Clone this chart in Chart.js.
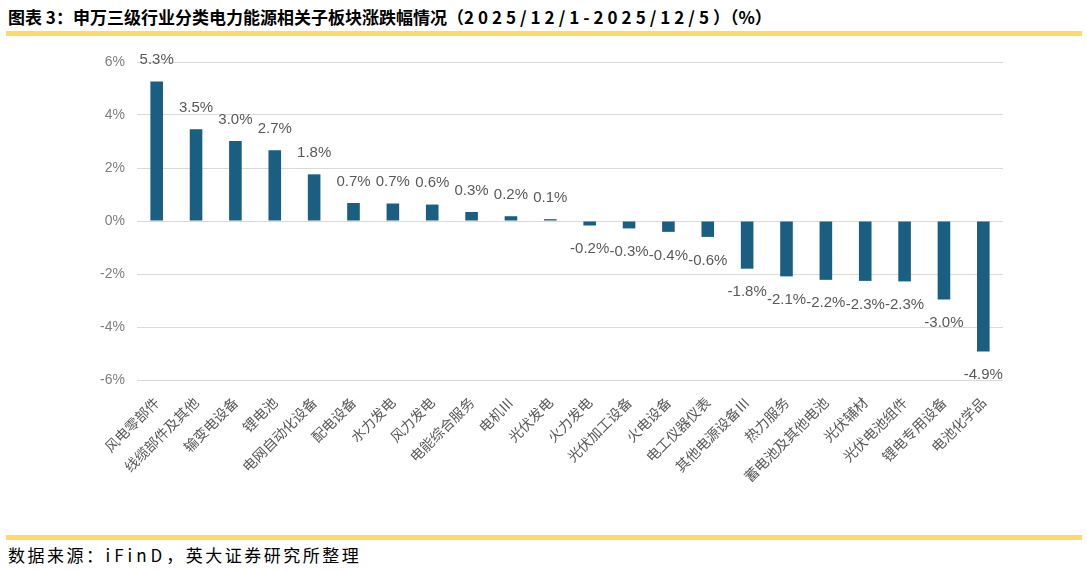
<!DOCTYPE html>
<html>
<head>
<meta charset="utf-8">
<script src="https://cdn.jsdelivr.net/npm/chart.js@4.4.0/dist/chart.umd.min.js"></script>
<style>
    html, body { margin: 0; padding: 0; background: #fff; }
    body { width: 1087px; height: 570px; position: relative; overflow: hidden; font-family: "Noto Sans CJK SC", sans-serif; }
    .title { position: absolute; left: 8px; top: 4px; font-size: 17px; font-weight: 700; color: #000; white-space: nowrap; }
    .title .num { letter-spacing: 4px; }
    .rule { position: absolute; left: 6px; width: 1076px; height: 5px; background: #ffd966; }
    .source { position: absolute; left: 8px; top: 542px; font-size: 17px; color: #000; white-space: nowrap; letter-spacing: 2.5px; }
    .source .num { letter-spacing: 4px; }
    #wrap { position: absolute; left: 0; top: 40px; width: 1087px; height: 490px; }
</style>
</head>
<body>
<div class="title">图表 3：申万三级行业分类电力能源相关子板块涨跌幅情况（<span class="num">2025/12/1-2025/12/5</span>）（%）</div>
<div class="rule" style="top:31px"></div>
<div id="wrap"><canvas id="chart"></canvas></div>
<div class="rule" style="top:535px"></div>
<div class="source">数据来源：<span class="num">iFinD</span>，英大证券研究所整理</div>

<script>
// 子板块名称
const sectors = ['风电零部件', '线缆部件及其他', '输变电设备', '锂电池', '电网自动化设备', '配电设备',
    '水力发电', '风力发电', '电能综合服务', '电机Ⅲ', '光伏发电', '火力发电', '光伏加工设备',
    '火电设备', '电工仪器仪表', '其他电源设备Ⅲ', '热力服务', '蓄电池及其他电池', '光伏辅材',
    '光伏电池组件', '锂电专用设备', '电池化学品'];

// 周涨跌幅 (%)
const changes = [5.26, 3.46, 3.02, 2.67, 1.76, 0.68, 0.66, 0.62, 0.34, 0.18, 0.07,
    -0.17, -0.28, -0.41, -0.6, -1.8, -2.09, -2.22, -2.26, -2.28, -2.96, -4.92];

const yTicks = [-6, -4, -2, 0, 2, 4, 6];

// 数据标签 (没有 datalabels 插件, 自己画)
const valueLabels = {
    id: 'valueLabels',
    afterDatasetsDraw(chart) {
        const ctx = chart.ctx;
        const meta = chart.getDatasetMeta(0);
        ctx.save();
        ctx.font = '15px "Liberation Sans", Arial, sans-serif';
        ctx.fillStyle = '#595959';
        ctx.textAlign = 'center';
        meta.data.forEach((bar, i) => {
            const v = changes[i];
            const txt = v.toFixed(1) + '%';
            if (v >= 0) {
                ctx.textBaseline = 'bottom';
                ctx.fillText(txt, bar.x, bar.y - 14);
            } else {
                ctx.textBaseline = 'top';
                ctx.fillText(txt, bar.x, bar.y + 16);
            }
        });
        ctx.restore();
    }
};

const ctx = document.getElementById('chart').getContext('2d');
new Chart(ctx, {
    type: 'bar',
    data: {
        labels: sectors,
        datasets: [{
            data: changes,
            backgroundColor: '#1a5e82',
            barPercentage: 0.32,
            categoryPercentage: 1
        }]
    },
    options: {
        responsive: true,
        maintainAspectRatio: false,
        animation: false,
        layout: { padding: { top: 22, right: 84, left: 0, bottom: 0 } },
        plugins: {
            legend: { display: false },
            tooltip: { enabled: false }
        },
        scales: {
            y: {
                min: -6,
                max: 6,
                afterBuildTicks: (axis) => { axis.ticks = yTicks.map(v => ({ value: v })); },
                afterFit: (axis) => { axis.width = 137; },
                border: { display: false },
                grid: { color: '#d9d9d9', lineWidth: 1, drawTicks: false },
                ticks: {
                    padding: 12,
                    color: '#7f7f7f',
                    font: { size: 14, family: '"Liberation Sans", Arial, sans-serif' },
                    callback: (v) => v + '%'
                }
            },
            x: {
                afterFit: (axis) => { axis.height = 150; },
                border: { display: false },
                grid: { display: false },
                ticks: {
                    autoSkip: false,
                    minRotation: 45,
                    maxRotation: 45,
                    padding: 6,
                    color: '#595959',
                    font: { size: 14, family: '"Noto Sans CJK SC", sans-serif' }
                }
            }
        }
    },
    plugins: [valueLabels]
});
</script>
</body>
</html>
